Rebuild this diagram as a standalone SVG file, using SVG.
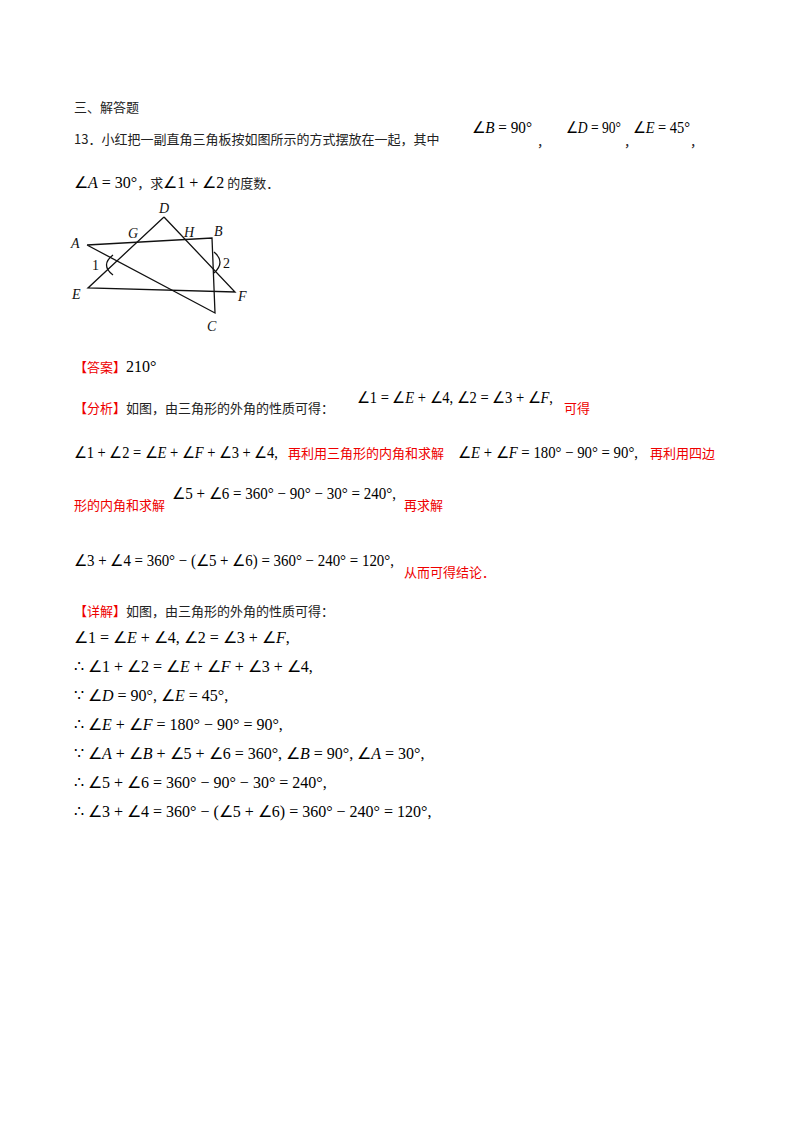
<svg xmlns="http://www.w3.org/2000/svg" width="800" height="1132" viewBox="0 0 800 1132">
<style>
.c{font-family:"Noto Sans CJK SC",sans-serif;font-size:13px;fill:#222}
.r{font-family:"Noto Sans CJK SC",sans-serif;font-size:13px;fill:#e00}
.m{font-family:"Liberation Serif",serif;font-size:16px;fill:#000}
.l{font-family:"Liberation Serif",serif;font-size:14px;font-style:italic;fill:#111}
.n{font-family:"Liberation Serif",serif;font-size:14px;fill:#111}
.ln{stroke:#111;stroke-width:1.3;fill:none}
</style>
<rect width="800" height="1132" fill="#fff"/>
<text class="c" x="74" y="112">三、解答题</text>
<text class="c" x="74" y="144">13．小红把一副直角三角板按如图所示的方式摆放在一起，其中</text>
<text class="m" x="472" y="133" textLength="60" lengthAdjust="spacingAndGlyphs">∠<tspan font-style="italic">B</tspan> = 90°</text>
<text class="c" x="537" y="146">，</text>
<text class="m" x="566" y="133" textLength="55" lengthAdjust="spacingAndGlyphs">∠<tspan font-style="italic">D</tspan> = 90°</text>
<text class="c" x="624" y="146">，</text>
<text class="m" x="633" y="133" textLength="57" lengthAdjust="spacingAndGlyphs">∠<tspan font-style="italic">E</tspan> = 45°</text>
<text class="c" x="690" y="146">，</text>
<text class="m" x="74" y="188">∠<tspan font-style="italic">A</tspan> = 30°<tspan class="c" font-size="13">，求</tspan>∠1 + ∠2<tspan class="c" font-size="13"> 的度数．</tspan></text>
<g id="figure">
<polyline class="ln" points="87,245 212,238 215,313 87,245"/>
<polyline class="ln" points="164,217 88,288 235,292 164,217"/>
<path class="ln" d="M113,255 Q100,265 113,275"/>
<path class="ln" d="M214,252 Q226,262 214,273"/>
<text class="l" x="159" y="213">D</text>
<text class="l" x="128" y="238">G</text>
<text class="l" x="184" y="237">H</text>
<text class="l" x="214" y="236">B</text>
<text class="l" x="71" y="248">A</text>
<text class="l" x="72" y="299">E</text>
<text class="l" x="238" y="301">F</text>
<text class="l" x="207" y="331">C</text>
<text class="n" x="92" y="270">1</text>
<text class="n" x="223" y="268">2</text>
</g>
<text class="r" x="74" y="372">【答案】<tspan class="m" font-size="15">210°</tspan></text>
<text class="r" x="74" y="413">【分析】<tspan fill="#222">如图，由三角形的外角的性质可得：</tspan></text>
<text class="m" x="357" y="403" textLength="196" lengthAdjust="spacingAndGlyphs">∠1 = ∠<tspan font-style="italic">E</tspan> + ∠4, ∠2 = ∠3 + ∠<tspan font-style="italic">F</tspan>,</text>
<text class="r" x="564" y="413">可得</text>
<text class="m" x="74" y="458" textLength="204" lengthAdjust="spacingAndGlyphs">∠1 + ∠2 = ∠<tspan font-style="italic">E</tspan> + ∠<tspan font-style="italic">F</tspan> + ∠3 + ∠4,</text>
<text class="r" x="288" y="458">再利用三角形的内角和求解</text>
<text class="m" x="458" y="458" textLength="180" lengthAdjust="spacingAndGlyphs">∠<tspan font-style="italic">E</tspan> + ∠<tspan font-style="italic">F</tspan> = 180° − 90° = 90°,</text>
<text class="r" x="650" y="458">再利用四边</text>
<text class="r" x="74" y="510">形的内角和求解</text>
<text class="m" x="172" y="499" textLength="224" lengthAdjust="spacingAndGlyphs">∠5 + ∠6 = 360° − 90° − 30° = 240°,</text>
<text class="r" x="404" y="510">再求解</text>
<text class="m" x="74" y="566" textLength="320" lengthAdjust="spacingAndGlyphs">∠3 + ∠4 = 360° − (∠5 + ∠6) = 360° − 240° = 120°,</text>
<text class="r" x="404" y="577">从而可得结论．</text>
<text class="r" x="74" y="616">【详解】<tspan fill="#222">如图，由三角形的外角的性质可得：</tspan></text>
<g class="m">
<text x="74" y="643">∠1 = ∠<tspan font-style="italic">E</tspan> + ∠4, ∠2 = ∠3 + ∠<tspan font-style="italic">F</tspan>,</text>
<text x="74" y="672">∴ ∠1 + ∠2 = ∠<tspan font-style="italic">E</tspan> + ∠<tspan font-style="italic">F</tspan> + ∠3 + ∠4,</text>
<text x="74" y="701">∵ ∠<tspan font-style="italic">D</tspan> = 90°, ∠<tspan font-style="italic">E</tspan> = 45°,</text>
<text x="74" y="730">∴ ∠<tspan font-style="italic">E</tspan> + ∠<tspan font-style="italic">F</tspan> = 180° − 90° = 90°,</text>
<text x="74" y="759">∵ ∠<tspan font-style="italic">A</tspan> + ∠<tspan font-style="italic">B</tspan> + ∠5 + ∠6 = 360°, ∠<tspan font-style="italic">B</tspan> = 90°, ∠<tspan font-style="italic">A</tspan> = 30°,</text>
<text x="74" y="788">∴ ∠5 + ∠6 = 360° − 90° − 30° = 240°,</text>
<text x="74" y="817">∴ ∠3 + ∠4 = 360° − (∠5 + ∠6) = 360° − 240° = 120°,</text>
</g>
</svg>
